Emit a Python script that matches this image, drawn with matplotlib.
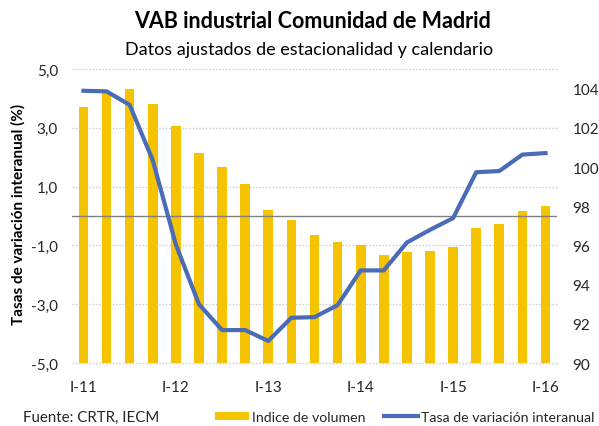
import numpy as np
import matplotlib
matplotlib.use("Agg")
import matplotlib.pyplot as plt
from matplotlib.patches import Patch
from matplotlib.lines import Line2D
from matplotlib import transforms

plt.rcParams['font.family'] = ['Lato', 'DejaVu Sans']

# quarters I-11 .. I-16
quarters = ["I-11", "II-11", "III-11", "IV-11",
            "I-12", "II-12", "III-12", "IV-12",
            "I-13", "II-13", "III-13", "IV-13",
            "I-14", "II-14", "III-14", "IV-14",
            "I-15", "II-15", "III-15", "IV-15",
            "I-16"]

# Indice de volumen (right axis)
indice = [103.05, 103.86, 104.0, 103.2, 102.1, 100.7, 100.0, 99.15,
          97.8, 97.3, 96.55, 96.2, 96.0, 95.5, 95.65, 95.7,
          95.9, 96.9, 97.1, 97.75, 98.0]

# Tasa de variacion interanual (left axis, %)
tasa = [4.26, 4.24, 3.78, 1.9, -0.97, -3.0, -3.88, -3.88,
        -4.25, -3.46, -3.44, -3.03, -1.85, -1.85, -0.9, -0.47,
        -0.07, 1.49, 1.53, 2.09, 2.14]

gold = '#F5C300'
blue = '#4A6BB6'
txt = '#262626'

fig = plt.figure(figsize=(5.99, 4.27), dpi=100)
ax = fig.add_axes([0.120, 0.1475, 0.810, 0.6885])
axb = ax.twinx()
ax.set_zorder(axb.get_zorder() + 1)
ax.patch.set_visible(False)

x = np.arange(len(quarters))

# bars on the right axis
axb.bar(x, indice, width=0.42, color=gold, zorder=2)
axb.set_ylim(90, 105)
axb.set_yticks(np.arange(90, 105, 2))

# line on the left axis
ax.plot(x, tasa, color=blue, lw=3, solid_joinstyle='round', zorder=3)
ax.axhline(0, color='#808080', lw=1, zorder=2)
ax.set_ylim(-5, 5)
ax.set_yticks(np.arange(-5, 6, 2))
ax.set_yticklabels([f"{v:.1f}".replace('.', ',') for v in np.arange(-5, 6, 2)])
ax.set_xlim(-0.5, len(quarters) - 0.5)
ax.set_xticks(x[::4])
ax.set_xticklabels(quarters[::4])

# dotted gridlines behind the bars
trans = transforms.blended_transform_factory(axb.transAxes, ax.transData)
for t in ax.get_yticks():
    axb.plot([0, 1], [t, t], transform=trans, color='#CFCFCF',
             lw=1, ls=(0, (1.2, 1.2)), zorder=0, clip_on=False)

for a in (ax, axb):
    for s in a.spines.values():
        s.set_visible(False)
    a.tick_params(length=0, labelsize=11, colors=txt)
ax.tick_params(axis='y', pad=10)
axb.tick_params(axis='y', pad=11)
ax.tick_params(axis='x', pad=12)

fig.text(0.030, 0.4977, "Tasas de variación interanual (%)", rotation=90,
         ha='center', va='center', fontsize=11, fontweight='bold', color='black')

fig.text(0.521, 0.950, "VAB industrial Comunidad de Madrid", ha='center',
         va='center', fontsize=15.5, fontweight='bold', color='black')
fig.text(0.516, 0.882, "Datos ajustados de estacionalidad y calendario",
         ha='center', va='center', fontsize=13, color='black')

fig.text(0.038, 0.021, "Fuente: CRTR, IECM", ha='left', va='center',
         fontsize=10.8, color=txt)

handles = [Patch(facecolor=gold, edgecolor='none'),
           Line2D([0], [0], color=blue, lw=3)]
fig.legend(handles, ["Indice de volumen", "Tasa de variación interanual"],
           loc='center left', bbox_to_anchor=(0.359, 0.021), ncol=2,
           frameon=False, fontsize=10.2, handlelength=2.4, handleheight=0.5,
           handletextpad=0.2, columnspacing=1.3, borderaxespad=0,
           borderpad=0, labelcolor=txt)

fig.savefig("out.png", dpi=100)
